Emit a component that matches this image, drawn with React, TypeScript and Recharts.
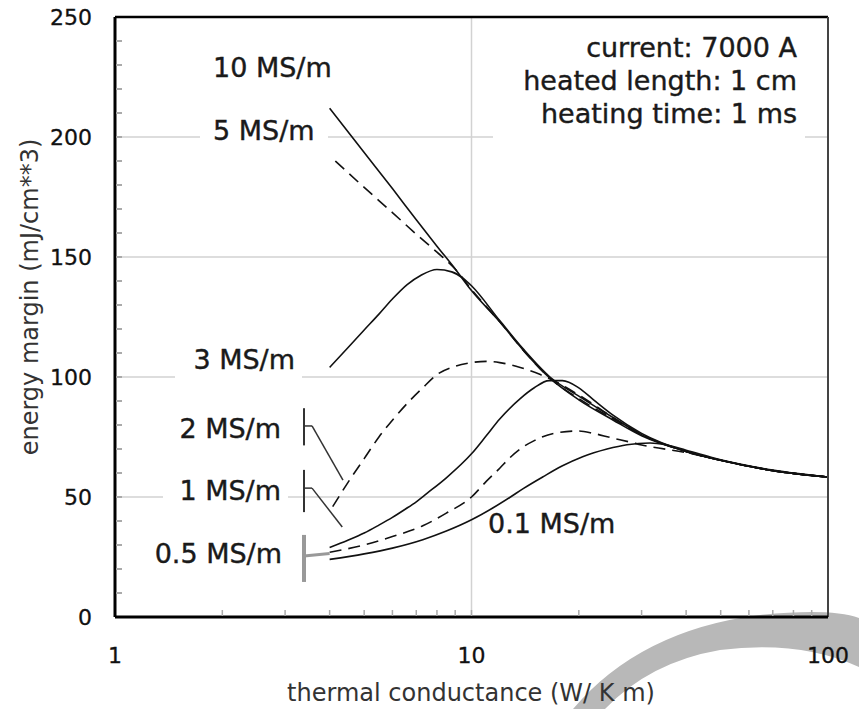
import React from 'react'
import { LineChart, Line, XAxis, YAxis, ReferenceLine } from 'recharts'

const FONT = '"DejaVu Sans", Verdana, sans-serif'

// thermal conductance (W/ K m) -> energy margin (mJ/cm**3), one pair per conductivity
const k10 = [4, 5, 6, 7, 8, 9, 10, 12, 14, 16.6, 20, 25, 30, 40, 50, 70, 100]
const e10 = [212, 193.5, 178.5, 165.5, 154.5, 145, 136, 123, 111, 99.5, 90.5, 82, 75.5, 69, 65.3, 61, 58.3]

const k5 = [4.15, 5, 6, 7, 8, 9, 10, 12, 14, 16.6, 20, 25, 30, 40, 50, 70, 100]
const e5 = [190, 179, 168.5, 159.5, 152, 145, 136.5, 123, 111, 99.5, 91, 82.5, 76, 69, 65.3, 61, 58.3]

const k3 = [4, 4.5, 5, 5.5, 6, 6.6, 7.2, 8, 8.8, 9.5, 10, 12, 14, 16.6, 20, 25, 30, 40, 50, 70, 100]
const e3 = [104, 112.2, 119.6, 126.2, 132.5, 138.5, 142.3, 144.8, 143.8, 141, 138, 123.5, 111.5, 100, 92, 83, 76, 69, 65.3, 61, 58.3]

const k2 = [4.08, 4.5, 5, 5.5, 6, 6.7, 7.3, 8, 9, 10, 11, 12, 13.7, 15.6, 17, 20, 25, 30, 40, 50, 70, 100]
const e2 = [46, 56, 66, 75, 82, 90, 95.5, 101, 104.5, 106, 106.5, 106, 104, 101, 98.5, 92.5, 83, 76, 69, 65.3, 61, 58.3]

const k1 = [4, 4.5, 5, 5.5, 6, 6.5, 7, 7.5, 8.5, 10, 11, 12, 13.7, 15, 16.5, 18, 20, 22, 25, 30, 40, 50, 70, 100]
const e1 = [29, 32, 35, 38.3, 41.5, 44.8, 48, 51.5, 58, 68, 75.5, 82.5, 91, 95.5, 98.5, 98.5, 95.5, 90.5, 84, 76.5, 69, 65.3, 61, 58.3]

const k05 = [4, 5, 6, 7.3, 8.5, 10, 11, 12, 12.8, 14, 15, 17, 20, 22, 24.5, 28, 30, 40, 50, 70, 100]
const e05 = [27, 30, 33.5, 38, 43.3, 50, 56.5, 62, 66.3, 71, 73.5, 76.5, 77.5, 76.5, 74.8, 72.8, 71.7, 68.5, 65.3, 61, 58.3]

const k01 = [4, 5, 6, 7.3, 8.5, 10, 11.5, 12.8, 14, 15.9, 18, 20.5, 24, 27.3, 31.7, 35, 40, 50, 70, 100]
const e01 = [24, 26.3, 28.7, 32.2, 35.8, 40.5, 45.5, 49.8, 53.6, 58.5, 63, 66.8, 70, 71.8, 72.5, 71.8, 69.5, 65.5, 61.2, 58.3]

const xTicks = [1, 2, 3, 4, 5, 6, 7, 8, 9, 10, 20, 30, 40, 50, 60, 70, 80, 90, 100]
const xLabels = [1, 10, 100]
const yTicks = [0, 10, 20, 30, 40, 50, 60, 70, 80, 90, 100, 110, 120, 130, 140, 150, 160, 170, 180, 190, 200, 210, 220, 230, 240, 250]
const yLabels = [0, 50, 100, 150, 200, 250]
const yGrid = [50, 100, 150, 200]

const notes = ['current: 7000 A', 'heated length: 1 cm', 'heating time: 1 ms']

// leader marks next to the lower labels: [x, y] pairs in data units
const leaders = [
  { bar: [[3.39, 87], [3.39, 71.5]], tail: [[3.39, 79.6], [3.57, 79.6], [4.36, 57]], color: '#333', w: 2 },
  { bar: [[3.39, 61.3], [3.39, 43.7]], tail: [[3.39, 53.7], [3.57, 53.7], [4.34, 37.5]], color: '#333', w: 2 },
  { bar: [[3.39, 34.2], [3.39, 14.6]], tail: [[3.39, 25.4], [4.0, 26.5]], color: '#999', w: 4 },
]

const pts = (xs: number[], ys: number[]) => xs.map((x, i) => ({ x, y: ys[i] }))

const series = [
  { name: '10 MS/m', data: pts(k10, e10), dashed: false },
  { name: '5 MS/m', data: pts(k5, e5), dashed: true },
  { name: '3 MS/m', data: pts(k3, e3), dashed: false },
  { name: '2 MS/m', data: pts(k2, e2), dashed: true },
  { name: '1 MS/m', data: pts(k1, e1), dashed: false },
  { name: '0.5 MS/m', data: pts(k05, e05), dashed: true },
  { name: '0.1 MS/m', data: pts(k01, e01), dashed: false },
]

// where each curve name sits on the page
const labelPos: Record<string, { x: number; y: number; anchor: 'start' | 'end' }> = {
  '10 MS/m': { x: 213, y: 77, anchor: 'start' },
  '5 MS/m': { x: 213, y: 140, anchor: 'start' },
  '3 MS/m': { x: 295, y: 369, anchor: 'end' },
  '2 MS/m': { x: 281, y: 438, anchor: 'end' },
  '1 MS/m': { x: 281, y: 500, anchor: 'end' },
  '0.5 MS/m': { x: 282, y: 563, anchor: 'end' },
  '0.1 MS/m': { x: 488, y: 533, anchor: 'start' },
}

// white boxes behind labels that hide the grid
const masks = [
  [200, 112, 128, 38],
  [175, 343, 127, 40],
  [163, 474, 125, 34],
  [493, 26, 312, 118],
]

function YTick(props: any) {
  const { x, y, payload } = props
  const v = payload.value
  return (
    <g>
      {v !== 0 && v !== 250 && <line x1={x + 1} x2={x + 7} y1={y} y2={y} stroke="#aaa" strokeWidth={2} />}
      {yLabels.includes(v) && (
        <text x={x - 23} y={y} dy="0.36em" textAnchor="end" fontSize={22} fill="#111" stroke="#111" strokeWidth={0.3} fontFamily={FONT}>
          {v}
        </text>
      )}
    </g>
  )
}

function XTick(props: any) {
  const { x, y, payload } = props
  const v = payload.value
  return (
    <g>
      {v !== 1 && v !== 100 && <line x1={x} x2={x} y1={y - 1} y2={y - 7} stroke="#aaa" strokeWidth={1.5} />}
      {xLabels.includes(v) && (
        <text x={x} y={y + 46} textAnchor="middle" fontSize={22} fill="#111" stroke="#111" strokeWidth={0.3} fontFamily={FONT}>
          {v}
        </text>
      )}
    </g>
  )
}

export default function App() {
  return (
    <div style={{ position: 'absolute', left: 0, top: 0, width: 859, height: 709, background: '#fff', overflow: 'hidden' }}>
      <svg width={859} height={709} style={{ position: 'absolute', left: 0, top: 0 }}>
        <path d="M 573 709 Q 640 630 760 615 Q 830 608 859 618 L 859 667 Q 800 640 720 650 Q 650 662 605 709 Z" fill="#b8b8b8" />
      </svg>
      <div style={{ position: 'absolute', left: 0, top: 0 }}>
        <LineChart width={859} height={709} margin={{ top: 17, right: 31, bottom: 52, left: 55 }}>
          <XAxis
            dataKey="x"
            type="number"
            scale="log"
            domain={[1, 100]}
            allowDataOverflow
            ticks={xTicks}
            interval={0}
            tickSize={0}
            tickMargin={0}
            tickLine={false}
            height={40}
            axisLine={{ stroke: '#000', strokeWidth: 3 }}
            tick={<XTick />}
          />
          <YAxis
            type="number"
            domain={[0, 250]}
            ticks={yTicks}
            interval={0}
            tickSize={0}
            tickMargin={0}
            tickLine={false}
            width={60}
            axisLine={{ stroke: '#000', strokeWidth: 3 }}
            tick={<YTick />}
          />
          {yGrid.map(v => (
            <ReferenceLine key={v} y={v} stroke="#d2d2d2" strokeWidth={1.5} />
          ))}
          <ReferenceLine x={10} stroke="#d2d2d2" strokeWidth={1.5} />
          {series.map(s => (
            <Line
              key={s.name}
              name={s.name}
              data={s.data}
              dataKey="y"
              type="monotone"
              stroke="#111"
              strokeWidth={1.6}
              strokeDasharray={s.dashed ? '12 7' : undefined}
              dot={false}
              activeDot={false}
              isAnimationActive={false}
            />
          ))}
          {leaders.map((l, i) => (
            <ReferenceLine
              key={'b' + i}
              segment={l.bar.map(([x, y]) => ({ x, y }))}
              stroke={l.color}
              strokeWidth={l.w}
              ifOverflow="visible"
            />
          ))}
          {leaders.flatMap((l, i) =>
            l.tail.slice(1).map((p, j) => (
              <ReferenceLine
                key={'t' + i + '-' + j}
                segment={[{ x: l.tail[j][0], y: l.tail[j][1] }, { x: p[0], y: p[1] }]}
                stroke={l.color}
                strokeWidth={l.w === 4 ? 3 : 1.5}
                ifOverflow="visible"
              />
            ))
          )}
          <ReferenceLine y={250} stroke="#000" strokeWidth={2.5} />
          <ReferenceLine x={100} stroke="#444" strokeWidth={2} />
        </LineChart>
      </div>
      <svg width={859} height={709} style={{ position: 'absolute', left: 0, top: 0, pointerEvents: 'none' }} fontFamily={FONT}>
        {masks.map(([x, y, w, h], i) => (
          <rect key={i} x={x} y={y} width={w} height={h} fill="#fff" />
        ))}
        {series.map(s => {
          const p = labelPos[s.name]
          return (
            <text key={s.name} x={p.x} y={p.y} textAnchor={p.anchor} fontSize={27} fill="#1a1a1a" stroke="#1a1a1a" strokeWidth={0.4}>
              {s.name}
            </text>
          )
        })}
        {notes.map((t, i) => (
          <text key={t} x={797} y={57 + i * 33} textAnchor="end" fontSize={27} fill="#1a1a1a" stroke="#1a1a1a" strokeWidth={0.4}>
            {t}
          </text>
        ))}
        <text x={471} y={701} textAnchor="middle" fontSize={24} fill="#333">
          thermal conductance (W/ K m)
        </text>
        <text x={30} y={297} transform="rotate(-90 30 297)" textAnchor="middle" dominantBaseline="central" fontSize={24} fill="#333">
          energy margin (mJ/cm**3)
        </text>
      </svg>
    </div>
  )
}
